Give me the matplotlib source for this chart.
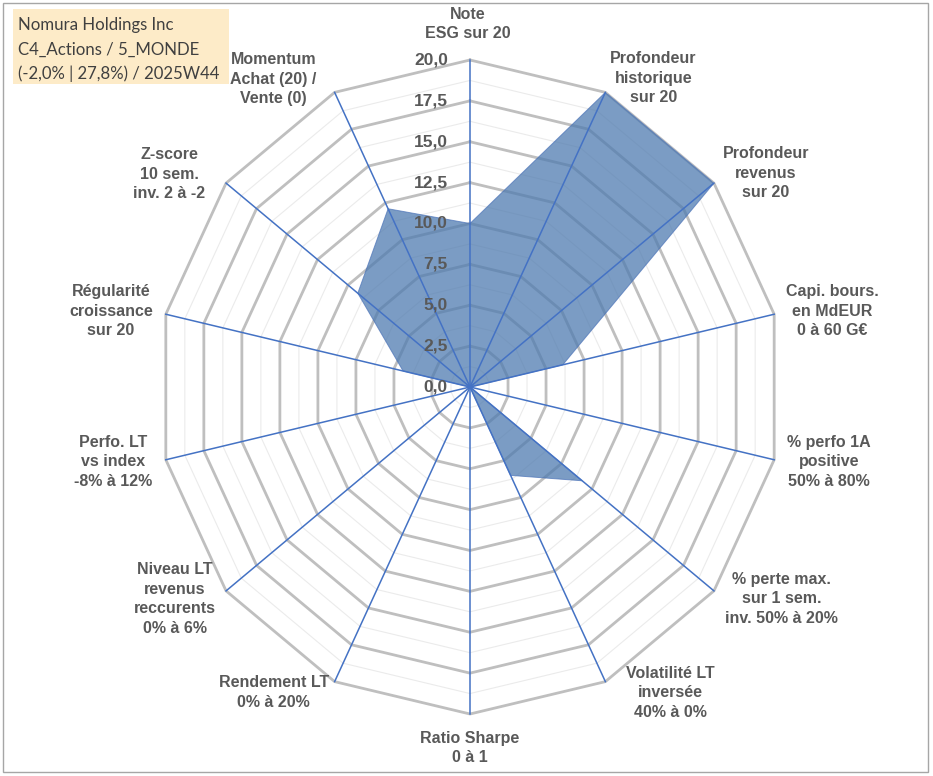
import numpy as np
import matplotlib
matplotlib.use("Agg")
import matplotlib.pyplot as plt
from matplotlib.patches import Rectangle

# ---------------- data ----------------
categories = [
    "Note\nESG sur 20",
    "Profondeur\nhistorique\nsur 20",
    "Profondeur\nrevenus\nsur 20",
    "Capi. bours.\nen MdEUR\n0 à 60 G€",
    "% perfo 1A\npositive\n50% à 80%",
    "% perte max.\nsur 1 sem.\ninv. 50% à 20%",
    "Volatilité LT\ninversée\n40% à 0%",
    "Ratio Sharpe\n0 à 1",
    "Rendement LT\n0% à 20%",
    "Niveau LT\nrevenus\nreccurents\n0% à 6%",
    "Perfo. LT\nvs index\n-8% à 12%",
    "Régularité\ncroissance\nsur 20",
    "Z-score\n10 sem.\ninv. 2 à -2",
    "Momentum\nAchat (20) /\nVente (0)",
]
values = [10.0, 20.0, 20.0, 6.1, 0.0, 9.2, 6.0, 0.0, 0.0, 0.0, 0.0, 4.4, 9.2, 12.1]
tick_values = [0, 2.5, 5, 7.5, 10, 12.5, 15, 17.5, 20]
tick_labels = ["0,0", "2,5", "5,0", "7,5", "10,0", "12,5", "15,0", "17,5", "20,0"]
minor_levels = [1.25, 3.75, 6.25, 8.75, 11.25, 13.75, 16.25, 18.75]
title_lines = ["Nomura Holdings Inc", "C4_Actions / 5_MONDE", "(-2,0% | 27,8%) / 2025W44"]

# label offsets (pixels) from the axis end points
label_offsets = [(-2, 36), (48, 14), (52, 10), (58, 3), (55, -2), (68, -8), (65, -11),
                 (0, -34), (-61, -11), (-51, -8), (-53, -2), (-55, 3), (-57, 9), (-61, 13)]

W, H = 933, 776
fig = plt.figure(figsize=(W / 100, H / 100), dpi=100)
fig.patch.set_facecolor("white")

# outer frame
fig.patches.append(Rectangle((3 / W, 4 / H), 925 / W, 769 / H, transform=fig.transFigure,
                             fill=False, edgecolor="#A6A6A6", linewidth=1.0))

cx, cy, rx, ry = 470, 387, 312, 327
ax = fig.add_axes([(cx - rx) / W, (H - cy - ry) / H, 2 * rx / W, 2 * ry / H], projection="polar")
ax.set_aspect("auto")
ax.set_theta_zero_location("N")
ax.set_theta_direction(-1)
ax.set_ylim(0, 20)
ax.grid(False)
ax.set_xticks([])
ax.set_yticks([])
ax.spines["polar"].set_visible(False)
ax.patch.set_visible(False)

n = len(categories)
theta = np.arange(n) * 2 * np.pi / n
theta_c = np.append(theta, theta[0])

# minor grid polygons
for r in minor_levels:
    ax.plot(theta_c, [r] * (n + 1), color="#EBEBEB", linewidth=0.8, zorder=1, clip_on=False)
# major grid polygons
for r in tick_values[1:]:
    ax.plot(theta_c, [r] * (n + 1), color="#BFBFBF", linewidth=2.0, zorder=2, clip_on=False,
            solid_joinstyle="miter")

# filled series
vals_c = np.append(values, values[0])
ax.fill(theta_c, vals_c, facecolor="#4F7BB0", alpha=0.75, edgecolor="none", zorder=3)
ax.plot(theta_c, vals_c, color="#4A72B8", linewidth=0.7, alpha=0.7, zorder=3)

# spokes
for t in theta:
    ax.plot([t, t], [0, 20], color="#4472C4", linewidth=1.1, zorder=4, clip_on=False)

# radial tick labels
for v, lab in zip(tick_values, tick_labels):
    ax.annotate(lab, xy=(0, v), xytext=(-22, 0), textcoords="offset pixels",
                ha="right", va="center", fontsize=12.5, fontweight="bold",
                color="#595959", family="Liberation Sans", zorder=6)

# category labels
for t, lab, (dx, dy) in zip(theta, categories, label_offsets):
    ax.annotate(lab, xy=(t, 20), xytext=(dx, dy), textcoords="offset pixels",
                ha="center", va="center", multialignment="center", fontsize=11.5,
                fontweight="bold", color="#595959", family="Liberation Sans",
                linespacing=1.38, annotation_clip=False)

# title box
fig.patches.append(Rectangle((13 / W, (H - 84) / H), 216 / W, 75 / H, transform=fig.transFigure,
                             facecolor="#FDEBC8", edgecolor="none"))
for i, line in enumerate(title_lines):
    fig.text(18 / W, (H - 25 - i * 24.5) / H, line, ha="left", va="center",
             fontsize=12.1, color="#404040", family="Lato")

fig.savefig("out.png", dpi=100)
